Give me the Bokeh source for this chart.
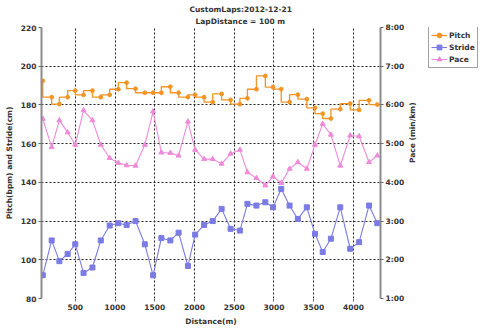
import math
from bokeh.plotting import figure
from bokeh.layouts import row
from bokeh.models import Range1d, LinearAxis, FixedTicker, Legend, LegendItem, Title
from bokeh.embed import file_html
from bokeh.resources import INLINE

# ---- data ----
distance = [91, 203, 300, 404, 500, 604, 716, 821, 933, 1042, 1146, 1258, 1375, 1479,
            1583, 1696, 1800, 1917, 2008, 2121, 2229, 2341, 2454, 2571, 2666, 2779,
            2891, 2988, 3091, 3196, 3300, 3413, 3516, 3613, 3716, 3834, 3959, 4071,
            4196, 4300]
pitch = [192.5, 184, 180.4, 184, 187.4, 185.2, 187.4, 184, 185.2, 188.1, 191.5, 188.4,
         186.3, 186.3, 186.3, 189.4, 186.3, 184, 185.2, 184, 181.4, 185.7, 182.6, 180.4,
         183.4, 188.1, 195, 189.2, 188.2, 181.5, 185.3, 183, 178.5, 175.5, 173, 177.8,
         180.7, 177.4, 182.4, 180.2]
stride = [92, 110, 99.3, 103, 108, 93.2, 96, 110, 117.7, 118.9, 118, 120, 108, 92, 111.2,
          110, 114, 96.8, 113, 118, 120, 126.3, 116, 115.1, 128.9, 128, 129.7, 127.1,
          136.6, 128, 121.1, 127.1, 113.4, 104, 110.9, 127.1, 105.7, 109.1, 128, 118.9]
pace = [5.64, 4.91, 5.60, 5.29, 4.97, 5.86, 5.60, 4.97, 4.63, 4.50, 4.44, 4.43, 4.97, 5.83,
        4.77, 4.76, 4.69, 5.57, 4.84, 4.60, 4.60, 4.48, 4.74, 4.84, 4.26, 4.11, 3.92, 4.15,
        3.98, 4.35, 4.52, 4.35, 4.97, 5.51, 5.23, 4.43, 5.21, 5.19, 4.52, 4.69]

x_ticks = [500, 1000, 1500, 2000, 2500, 3000, 3500, 4000]
left_ticks = [80, 100, 120, 140, 160, 180, 200, 220]
pace_ticks = [1, 2, 3, 4, 5, 6, 7, 8]
pace_labels = ["1:00", "2:00", "3:00", "4:00", "5:00", "6:00", "7:00", "8:00"]

series_names = ["Pitch", "Stride", "Pace"]
title1 = "CustomLaps:2012-12-21"
title2 = "LapDistance = 100 m"

# ---- styling ----
FONT = "DejaVu Sans"
FS = "7.5px"
ORANGE = "#F39424"
BLUE = "#7B7BE4"
PINK = "#EE8AD8"
TXT = "#333333"

p = figure(width=424, height=329, output_backend="svg", toolbar_location=None,
           x_range=Range1d(75, 4340), y_range=Range1d(80, 220), title=None,
           min_border_left=41, min_border_right=42, min_border_top=27, min_border_bottom=31,
           background_fill_color="white", border_fill_color="white")
p.outline_line_color = None

p.extra_y_ranges = {"pace": Range1d(1, 8)}

# axes
xt = FixedTicker(ticks=x_ticks)
yt = FixedTicker(ticks=left_ticks)
p.xaxis.ticker = xt
p.yaxis.ticker = yt
p.xgrid.ticker = xt
p.ygrid.ticker = yt


def style_axis(ax):
    ax.major_label_text_font = FONT
    ax.major_label_text_font_size = FS
    ax.major_label_text_font_style = "bold"
    ax.major_label_text_color = TXT
    ax.axis_label_text_font = FONT
    ax.axis_label_text_font_size = FS
    ax.axis_label_text_font_style = "bold"
    ax.axis_label_text_color = TXT
    ax.minor_tick_line_color = None
    ax.major_tick_in = 0
    ax.major_tick_out = 3
    ax.major_label_standoff = 2
    ax.axis_label_standoff = 4
    ax.major_tick_line_color = "#666666"


style_axis(p.xaxis[0])
style_axis(p.yaxis[0])
p.xaxis.axis_label = "Distance(m)"
p.xaxis.axis_line_color = None
p.yaxis.axis_label = "Pitch(bpm) and Stride(cm)"
p.yaxis.axis_line_color = "#8c8c8c"
p.yaxis.axis_line_width = 2

right = LinearAxis(y_range_name="pace", ticker=FixedTicker(ticks=pace_ticks),
                   major_label_overrides={t: l for t, l in zip(pace_ticks, pace_labels)},
                   axis_label="Pace (min/km)")
style_axis(right)
right.axis_label_standoff = 5
right.axis_line_color = "#8c8c8c"
right.axis_line_width = 2
try:
    right.axis_label_orientation = math.pi / 2
except Exception:
    pass
p.add_layout(right, "right")

for g in (p.xgrid[0], p.ygrid[0]):
    g.grid_line_color = "#222222"
    g.grid_line_dash = "2 2"
    g.grid_line_width = 1

# glyphs
p.step(distance, pitch, mode="before", line_color=ORANGE, line_width=1.3)
p.scatter(distance, pitch, marker="circle", size=3.8, color=ORANGE)
p.line(distance, stride, line_color=BLUE, line_width=1.1)
p.scatter(distance, stride, marker="square", size=5, color=BLUE)
p.line(distance, pace, y_range_name="pace", line_color=PINK, line_width=1.1)
p.scatter(distance, pace, y_range_name="pace", marker="triangle", size=5, color=PINK)

t2 = Title(text=title2, align="left", offset=154, text_font=FONT, text_font_size=FS,
           text_font_style="bold", text_color=TXT, standoff=3)
p.add_layout(t2, "above")
t1 = Title(text=title1, align="left", offset=148, text_font=FONT, text_font_size=FS,
           text_font_style="bold", text_color=TXT, standoff=0)
p.add_layout(t1, "above")

# ---- legend panel (separate small figure to the right) ----
lf = figure(width=56, height=329, output_backend="svg", toolbar_location=None,
            x_range=Range1d(0, 1), y_range=Range1d(0, 1), title=None,
            x_axis_type=None, y_axis_type=None,
            min_border_left=0, min_border_right=0, min_border_top=0, min_border_bottom=0,
            background_fill_color=None, border_fill_color=None)
lf.outline_line_color = None
lf.grid.visible = False
nan = [float("nan")]
l1 = lf.line(nan, nan, line_color=ORANGE, line_width=1.3)
s1 = lf.scatter(nan, nan, marker="circle", size=3.8, color=ORANGE)
l2 = lf.line(nan, nan, line_color=BLUE, line_width=1.1)
s2 = lf.scatter(nan, nan, marker="square", size=5, color=BLUE)
l3 = lf.line(nan, nan, line_color=PINK, line_width=1.1)
s3 = lf.scatter(nan, nan, marker="triangle", size=5, color=PINK)

legend = Legend(items=[LegendItem(label=series_names[0], renderers=[l1, s1]),
                       LegendItem(label=series_names[1], renderers=[l2, s2]),
                       LegendItem(label=series_names[2], renderers=[l3, s3])],
                location=(4, 230))
legend.label_text_font = FONT
legend.label_text_font_size = FS
legend.label_text_font_style = "bold"
legend.label_text_color = TXT
legend.glyph_width = 16
legend.glyph_height = 12
legend.label_height = 12
legend.label_standoff = 2
legend.spacing = 0
legend.padding = 2
legend.margin = 0
legend.border_line_color = "#444444"
legend.border_line_width = 1
legend.background_fill_color = "white"
legend.background_fill_alpha = 1
lf.add_layout(legend, "center")

layout = row(p, lf, spacing=0)
open("out.html", "w").write(file_html(layout, INLINE))
